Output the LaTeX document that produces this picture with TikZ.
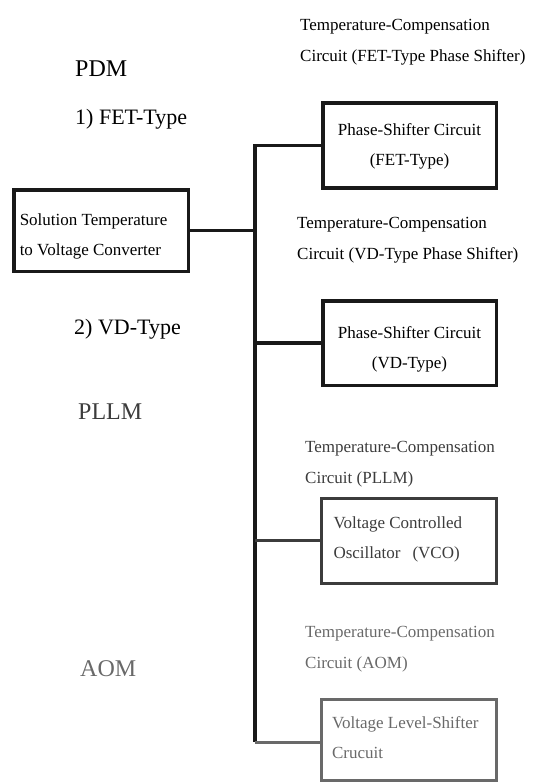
\documentclass[tikz,border=0pt]{standalone}
\usepackage{fontspec}
\setmainfont{Liberation Serif}
\usetikzlibrary{calc}
\definecolor{LnBlack}{RGB}{25,25,25}
\definecolor{PllGray}{RGB}{60,60,60}
\definecolor{AomGray}{RGB}{105,105,105}
% box text: height, width, alignment, top skip, text
\newcommand{\bxtxt}[5]{%
  \parbox[c][#1][t]{#2}{\fontsize{17}{30}\selectfont#3\vspace*{#4}#5}}
\tikzset{
  nd_box/.style={
    rectangle, draw=LnBlack, line width=3.5pt, inner sep=0pt},
  lbl/.style={
    anchor=west, inner sep=0pt, align=flush left,
    font=\fontsize{17}{31}\selectfont},
  lbl_big/.style={
    anchor=west, inner sep=0pt, font=\fontsize{24}{28}\selectfont},
  lbl_mid/.style={
    anchor=west, inner sep=0pt, font=\fontsize{22}{26}\selectfont},
  wire/.style={draw=LnBlack, line width=3.5pt, line join=miter},
}

\begin{document}
\begin{tikzpicture}[x=1pt,y=-1pt]
\useasboundingbox (0,0) rectangle (536,784);

%% left labels
\node[lbl_big] (pdm)  at (75,69)  {PDM};
\node[lbl_mid] (fet)  at (75,119) {1) FET-Type};
\node[lbl_mid] (vd)   at (74,329) {2) VD-Type};
\node[lbl_big, text=PllGray] (pllm) at (78,412) {PLLM};
\node[lbl_big, text=AomGray] (aom)  at (80,669) {AOM};

%% compensation labels
\node[lbl] (tc1) at (300,42.5) {Temperature-Compensation\\Circuit (FET-Type Phase Shifter)};
\node[lbl] (tc2) at (297,240.5) {Temperature-Compensation\\Circuit (VD-Type Phase Shifter)};
\node[lbl, text=PllGray] (tc3) at (305,464) {Temperature-Compensation\\Circuit (PLLM)};
\node[lbl, text=AomGray] (tc4) at (305,649) {Temperature-Compensation\\Circuit (AOM)};

%% boxes
\node[nd_box] at (101,230.5) (conv)
  {\bxtxt{81.5pt}{174.5pt}{\raggedright\leftskip=6pt}{23.5pt}{Solution Temperature\\to Voltage Converter}};
\node[nd_box] at (409.5,145.4) (ps1)
  {\bxtxt{85.25pt}{173.5pt}{\centering}{20.5pt}{Phase-Shifter Circuit\\(FET-Type)}};
\node[nd_box] at (409.5,343) (ps2)
  {\bxtxt{84.5pt}{173.5pt}{\centering}{25.5pt}{Phase-Shifter Circuit\\(VD-Type)}};
\node[nd_box, draw=PllGray, text=PllGray, line width=3pt] at (409,541) (vco)
  {\bxtxt{85pt}{175pt}{\raggedright\leftskip=12pt}{17.7pt}{Voltage Controlled\\Oscillator\hspace{12pt}(VCO)}};
\node[nd_box, draw=AomGray, text=AomGray, line width=3pt] at (409,740) (lvs)
  {\bxtxt{81pt}{175pt}{\raggedright\leftskip=10.5pt}{16.7pt}{Voltage Level-Shifter\\Crucuit}};

%% trunk
\coordinate (trk) at (255,0);
\draw[wire] (conv.east) -- (conv.east -| trk);
\draw[wire] (ps1.west) -- (ps1.west -| trk) -- ($(lvs.west -| trk)+(0,2)$);
\draw[wire] (ps2.west) -- (ps2.west -| trk);
\draw[wire, draw=PllGray, line width=3pt] ($(vco.west)+(0,-1)$) -- ($(vco.west -| trk)+(0,-1)$);
\draw[wire, draw=AomGray, line width=3pt] ($(lvs.west)+(0,2)$) -- ($(lvs.west -| trk)+(0,2)$);

\end{tikzpicture}
\end{document}
